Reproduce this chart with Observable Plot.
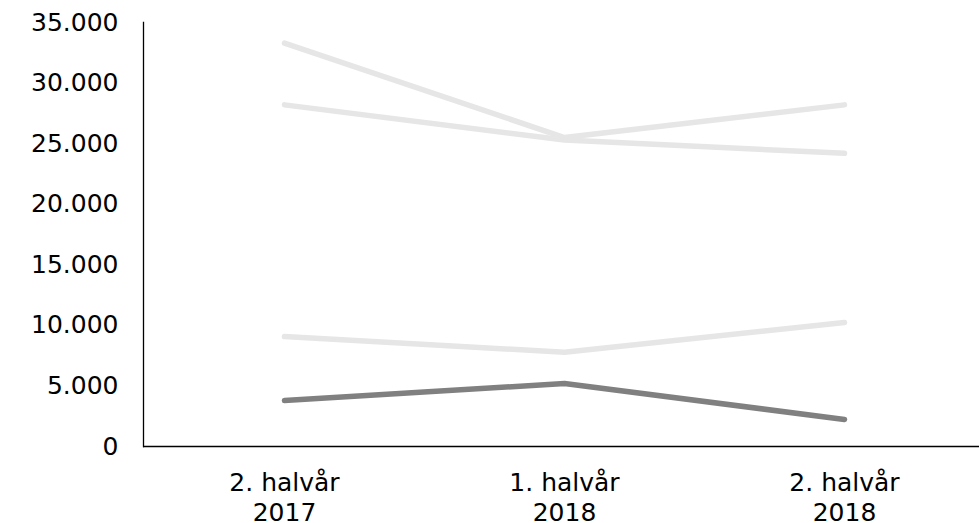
<!DOCTYPE html>
<html>
<head>
<meta charset="utf-8">
<script src="https://cdn.jsdelivr.net/npm/d3@7"></script>
<script src="https://cdn.jsdelivr.net/npm/@observablehq/plot@0.6"></script>
<style>
  html, body { margin: 0; padding: 0; background: #fff; overflow: hidden; }
  #chart svg { font-family: "DejaVu Sans", Verdana, sans-serif; }
</style>
</head>
<body>
<div id="chart"></div>
<script>
const periods = ["2. halvår\n2017", "1. halvår\n2018", "2. halvår\n2018"];
const seriesNames = ["Serie 1", "Serie 2", "Serie 3", "Serie 4"];
const serie1 = [33300, 25500, 28200];
const serie2 = [28200, 25300, 24200];
const serie3 = [9080, 7780, 10240];
const serie4 = [3800, 5200, 2230];
const seriesColors = ["#e6e6e6", "#e6e6e6", "#e6e6e6", "#808080"];
const yTicks = [0, 5000, 10000, 15000, 20000, 25000, 30000, 35000];

const allSeries = [serie1, serie2, serie3, serie4];
const rows = [];
allSeries.forEach((vals, si) => {
  vals.forEach((v, i) => rows.push({period: periods[i], value: v, series: seriesNames[si]}));
});

const fmt = d3.formatLocale({decimal: ",", thousands: ".", grouping: [3], currency: ["", ""]}).format(",d");

const chart = Plot.plot({
  width: 979,
  height: 523,
  marginLeft: 143,
  marginRight: -6,
  marginTop: 22,
  marginBottom: 77,
  style: {fontSize: "25px", fontFamily: "DejaVu Sans, Verdana, sans-serif", color: "#000", background: "#fff", overflow: "hidden"},
  x: {type: "point", domain: periods, padding: 0.5},
  y: {domain: [0, 35000]},
  color: {domain: seriesNames, range: seriesColors},
  marks: [
    Plot.axisY({ticks: yTicks, tickFormat: fmt, tickSize: 0, tickPadding: 25, label: null}),
    Plot.axisX({tickSize: 0, tickPadding: 24, label: null, lineHeight: 1.18, textAnchor: "middle"}),
    Plot.frame({anchor: "left", stroke: "#000", strokeWidth: 1.3}),
    Plot.ruleY([0], {stroke: "#000", strokeWidth: 1.3}),
    Plot.line(rows, {x: "period", y: "value", z: "series", stroke: "series", strokeWidth: 5.5, strokeLinecap: "round", strokeLinejoin: "round"})
  ]
});
document.getElementById("chart").appendChild(chart);
</script>
</body>
</html>
